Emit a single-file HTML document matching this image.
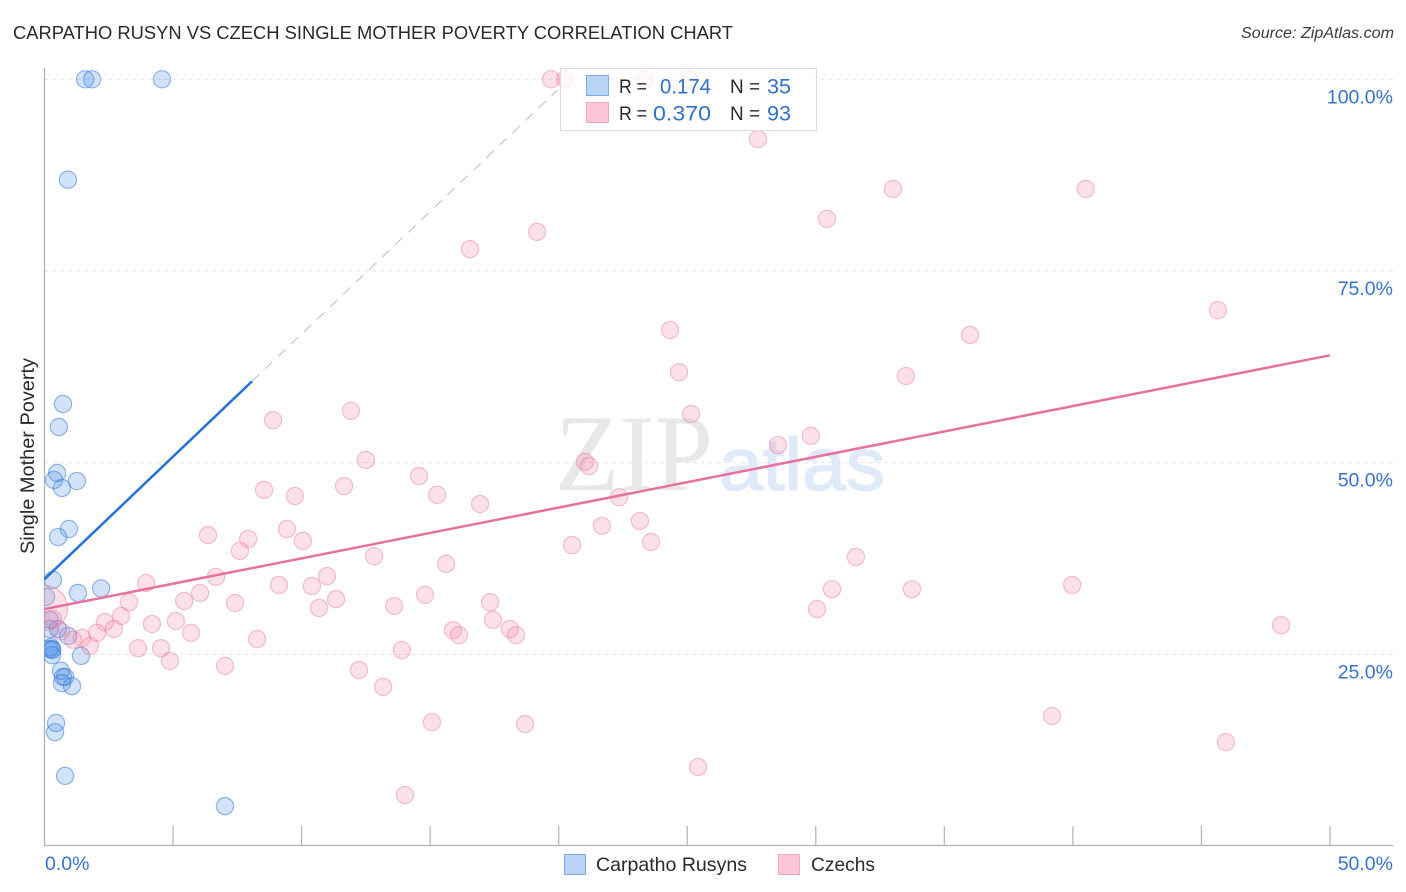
<!DOCTYPE html>
<html lang="en">
<head>
<meta charset="utf-8">
<title>Carpatho Rusyn vs Czech Single Mother Poverty Correlation Chart</title>
<style>
html,body{margin:0;padding:0;background:#fff;}
body{width:1406px;height:892px;overflow:hidden;}
svg{display:block;font-family:"Liberation Sans",sans-serif;}
</style>
</head>
<body>
<svg id="chart" xmlns="http://www.w3.org/2000/svg" width="1406" height="892" viewBox="0 0 1406 892">
  <defs>
    <clipPath id="plot-clip"><rect x="44.5" y="60" width="1349" height="786"></rect></clipPath>
  </defs>
  <rect x="0" y="0" width="1406" height="892" fill="#ffffff"></rect>
  <text x="13" y="39" font-size="18.5" fill="#2a2a2e" textLength="720" lengthAdjust="spacingAndGlyphs">CARPATHO RUSYN VS CZECH SINGLE MOTHER POVERTY CORRELATION CHART</text>
  <text x="1241" y="38" font-size="15.5" font-style="italic" fill="#3c3c40" textLength="153" lengthAdjust="spacingAndGlyphs">Source: ZipAtlas.com</text>
  <g id="grid"></g>
  <g>
    <text x="555" y="490" font-family="'Liberation Serif',serif" font-size="109" fill="#e8e8e8" textLength="158" lengthAdjust="spacingAndGlyphs">ZIP</text>
    <text x="719" y="490" font-family="'Liberation Sans',sans-serif" font-size="74" fill="#dfeaf8" stroke="#dfeaf8" stroke-width="1.5" textLength="166" lengthAdjust="spacingAndGlyphs">atlas</text>
  </g>
  <g id="axes">
    <line x1="44.5" y1="68" x2="44.5" y2="846" stroke="#b0b0b0" stroke-width="1.3"></line>
    <line x1="44" y1="845.5" x2="1393" y2="845.5" stroke="#b0b0b0" stroke-width="1.3"></line>
  </g>
  <g id="points-blue" clip-path="url(#plot-clip)"></g>
  <g id="points-pink" clip-path="url(#plot-clip)"></g>
  <g id="trend"></g>
  <g id="labels"></g>
  <text transform="translate(34,554) rotate(-90)" font-size="19" fill="#2a2a2e" textLength="196" lengthAdjust="spacingAndGlyphs">Single Mother Poverty</text>

  <g>
    <rect x="560.5" y="68.5" width="256" height="62" fill="#ffffff" fill-opacity="0.78" stroke="#dcdcdc" stroke-width="1.2"></rect>
    <rect x="586.5" y="75.5" width="22" height="20" fill="#b9d4f6" stroke="#7fabe4" stroke-width="1"></rect>
    <rect x="586.5" y="102.5" width="22" height="20" fill="#fbc6d7" stroke="#f3a9c2" stroke-width="1"></rect>
    <text x="619" y="93" font-size="19.5" fill="#2a2a2e" textLength="28" lengthAdjust="spacingAndGlyphs">R =</text>
    <text x="660" y="93.5" font-size="21" fill="#2f6fd0" textLength="51" lengthAdjust="spacingAndGlyphs">0.174</text>
    <text x="730" y="93" font-size="19.5" fill="#2a2a2e" textLength="30" lengthAdjust="spacingAndGlyphs">N =</text>
    <text x="767" y="93.5" font-size="21" fill="#2f6fd0" textLength="24" lengthAdjust="spacingAndGlyphs">35</text>
    <text x="619" y="120" font-size="19.5" fill="#2a2a2e" textLength="28" lengthAdjust="spacingAndGlyphs">R =</text>
    <text x="653" y="120.5" font-size="21" fill="#2f6fd0" textLength="58" lengthAdjust="spacingAndGlyphs">0.370</text>
    <text x="730" y="120" font-size="19.5" fill="#2a2a2e" textLength="30" lengthAdjust="spacingAndGlyphs">N =</text>
    <text x="767" y="120.5" font-size="21" fill="#2f6fd0" textLength="24" lengthAdjust="spacingAndGlyphs">93</text>
  </g>

  <g>
    <rect x="564.5" y="854.5" width="21" height="20" fill="#b9d4f6" stroke="#7fabe4" stroke-width="1"></rect>
    <text x="596" y="871" font-size="19.5" fill="#2a2a2e" textLength="151" lengthAdjust="spacingAndGlyphs">Carpatho Rusyns</text>
    <rect x="778.5" y="854.5" width="21" height="20" fill="#fbc6d7" stroke="#f3a9c2" stroke-width="1"></rect>
    <text x="811" y="871" font-size="19.5" fill="#2a2a2e" textLength="64" lengthAdjust="spacingAndGlyphs">Czechs</text>
  </g>
</svg>
<script>
const blueX = [1.58,1.85,4.57,0.91,0.72,0.56,0.49,0.37,0.68,1.26,0.95,0.53,0.33,2.2,1.3,0.06,0.21,0.52,0.92,0.21,0.25,0.29,0.18,0.3,0.29,1.42,0.64,0.8,0.72,0.68,1.07,0.45,0.41,0.8,7.02];
const blueY = [100,100,100,86.9,57.65,54.65,48.65,47.74,46.7,47.6,41.35,40.3,34.7,33.6,33,32.5,29.5,28.3,27.4,28.3,25.95,25.7,25.7,25.55,24.9,24.8,22.85,22.05,22.05,21.25,20.85,16.05,14.85,9.15,5.2];
const pinkX = [19.7,20.25,23.36,25.07,27.75,33,40.5,30.43,19.16,16.55,45.64,24.33,36,24.68,33.5,11.92,25.15,8.89,29.81,28.53,12.5,21.02,21.18,14.57,11.65,8.54,9.74,15.27,22.35,16.94,23.16,21.68,9.43,6.36,7.92,10.05,23.59,20.52,7.6,12.82,31.56,15.62,6.67,10.99,3.95,9.12,10.4,39.97,30.63,33.74,6.05,3.29,5.43,11.34,14.8,7.41,13.6,17.33,10.68,30.05,5.11,2.98,4.18,17.44,2.35,2.7,2.04,1.46,5.7,15.89,16.12,18.1,18.34,48.1,8.27,1.77,3.64,4.53,13.9,4.88,7.02,12.23,13.17,15.07,18.69,39.19,45.95,25.42,14.02,0.02,0.64,1.11,0.33];
const pinkY = [100,100,100,100,92.2,85.7,85.7,81.8,80.1,77.85,69.9,67.3,66.65,61.8,61.3,56.75,56.35,55.55,53.5,52.3,50.35,50.1,49.55,48.25,46.95,46.45,45.65,45.8,45.5,44.6,42.4,41.75,41.35,40.55,40.05,39.8,39.65,39.25,38.5,37.8,37.7,36.8,35.1,35.2,34.3,34.05,33.9,34.05,33.5,33.5,33,31.8,31.95,32.2,32.75,31.7,31.3,31.8,31.05,30.9,29.35,30,28.95,29.5,29.2,28.3,27.8,27.15,27.8,28.15,27.5,28.3,27.5,28.8,27,26.1,25.8,25.8,25.55,24.15,23.5,22.95,20.75,16.15,15.9,16.95,13.55,10.3,6.65,31.05,28,26.9,29.6];
const xTicks = [0,5,10,15,20,25,30,35,40,45,50];
const yTicks = [25,50,75,100];
const xTickLabels = ["0.0%","50.0%"];
const xTickLabelValues = [0,50];
const yTickLabels = ["25.0%","50.0%","75.0%","100.0%"];
const blueTrendX = [0,8.07];
const blueTrendY = [34.8,60.6];
const blueTrendDashX = [8.07,19.95];
const blueTrendDashY = [60.6,98.6];
const pinkTrendX = [0,50];
const pinkTrendY = [30.9,64];
const largePointIndex = 89;

const SVGNS = "http://www.w3.org/2000/svg";
function xScale(v){ return 44.5 + v * 25.71; }
function yScale(v){ return 846 - v * 7.667; }
function make(tag, attrs, parent){
  const el = document.createElementNS(SVGNS, tag);
  for (const k in attrs) el.setAttribute(k, attrs[k]);
  parent.appendChild(el);
  return el;
}

const grid = document.getElementById("grid");
yTicks.forEach(function(t){
  const l = make("line", {x1:44.5, x2:1393, y1:yScale(t), y2:yScale(t), stroke:"#e2e2e2", "stroke-width":1, "stroke-dasharray":"4.5 3.5"}, grid);
  
  
});

const axes = document.getElementById("axes");
xTicks.forEach(function(t){
  if (t === 0) return;
  const l = make("line", {x1:xScale(t), x2:xScale(t), y1:826, y2:846, stroke:"#b8b8b8", "stroke-width":1.3}, axes);
  
  
});

const blueGroup = document.getElementById("points-blue");
blueX.forEach(function(v, i){
  const c = make("circle", {cx:xScale(v), cy:yScale(blueY[i]), r:8.6, fill:"#4a8ee8", "fill-opacity":0.25, stroke:"#2f74d6", "stroke-opacity":0.5, "stroke-width":1.2}, blueGroup);
  
  
});

const pinkGroup = document.getElementById("points-pink");
pinkX.forEach(function(v, i){
  const rad = i === largePointIndex ? 22.5 : 8.6;
  const c = make("circle", {cx:xScale(v), cy:yScale(pinkY[i]), r:rad, fill:"#f28aab", "fill-opacity":0.26, stroke:"#e8709a", "stroke-opacity":0.42, "stroke-width":1.2}, pinkGroup);
  
  
});

const trend = document.getElementById("trend");
const dashLine = make("line", {x1:xScale(blueTrendDashX[0]), y1:yScale(blueTrendDashY[0]), x2:xScale(blueTrendDashX[1]), y2:yScale(blueTrendDashY[1]), stroke:"#a9b6cf", "stroke-width":0.9, "stroke-dasharray":"10 8"}, trend);


const blueLine = make("line", {x1:xScale(blueTrendX[0]), y1:yScale(blueTrendY[0]), x2:xScale(blueTrendX[1]), y2:yScale(blueTrendY[1]), stroke:"#2272d9", "stroke-width":2.5}, trend);


const pinkLine = make("line", {x1:xScale(pinkTrendX[0]), y1:yScale(pinkTrendY[0]), x2:xScale(pinkTrendX[1]), y2:yScale(pinkTrendY[1]), stroke:"#e8709f", "stroke-width":2.5}, trend);



const labels = document.getElementById("labels");
yTickLabels.forEach(function(txt, i){
  const t = make("text", {x:1393, y:yScale(yTicks[i]) + 24, "font-size":19.5, fill:"#3573d3", "text-anchor":"end"}, labels);
  t.textContent = txt;
  
  
});
xTickLabels.forEach(function(txt, i){
  const t = make("text", {x: i === 0 ? 45 : 1393, y:870, "font-size":19.5, fill:"#3573d3", "text-anchor": i === 0 ? "start" : "end"}, labels);
  t.textContent = txt;
  
  
  t.setAttribute('data-value', xTickLabelValues[i]);
});
</script>
</body>
</html>
